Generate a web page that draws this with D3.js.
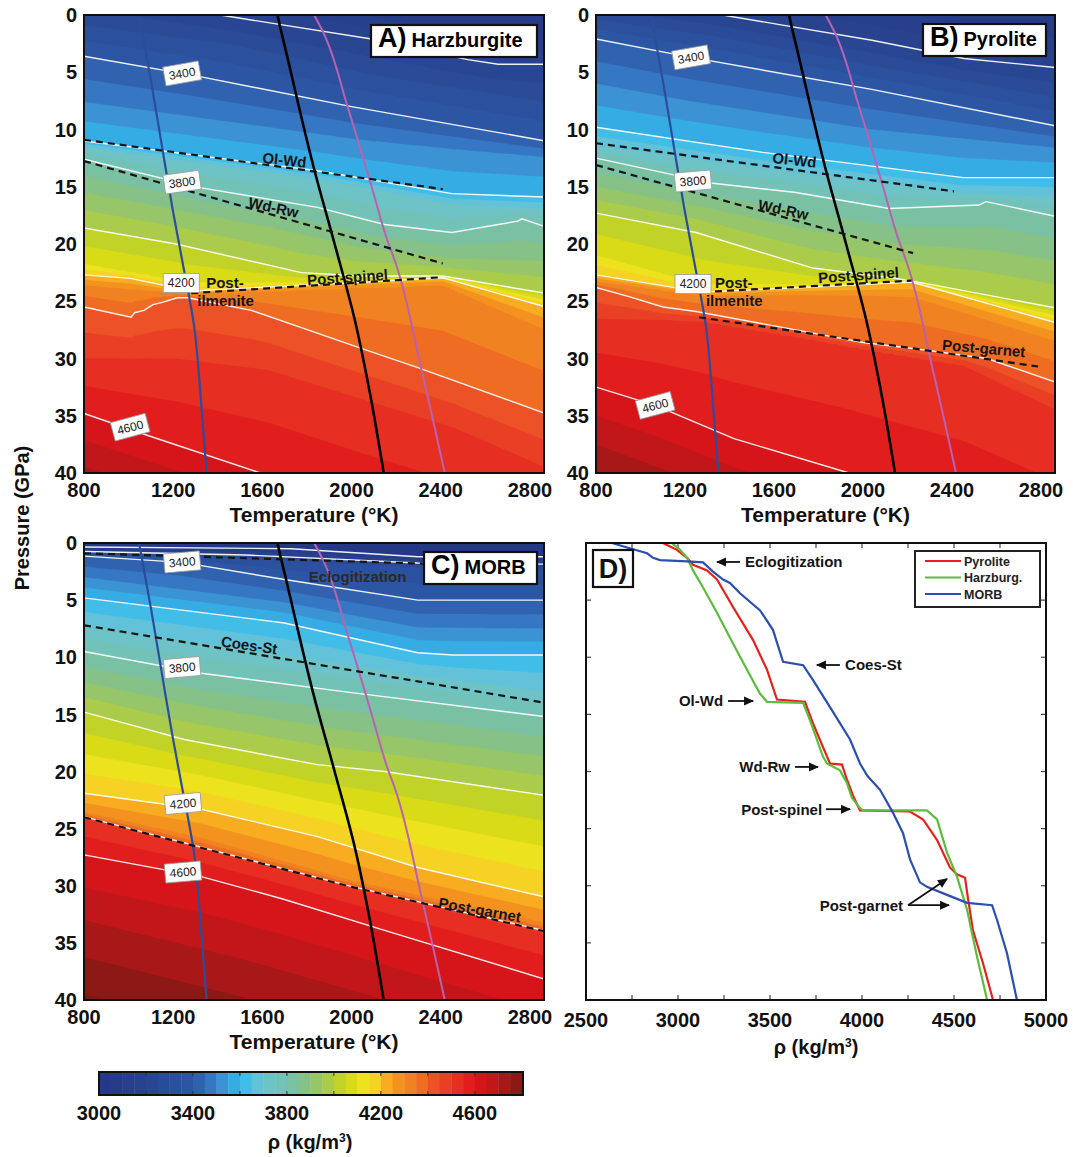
<!DOCTYPE html>
<html><head><meta charset="utf-8">
<script src="https://cdn.jsdelivr.net/npm/d3@7"></script>
<style>
body{margin:0;background:#fff;}
svg text{font-family:"Liberation Sans",Arial,Helvetica,sans-serif;}
</style></head>
<body><svg id="fig" width="1073" height="1157"></svg>
<script>
// ---------------- ticks ----------------
const tempDomain=[800,2863];
const tempTicks=[800,1200,1600,2000,2400,2800];
const presTicks=[0,5,10,15,20,25,30,35,40];
const rhoTicks=[2500,3000,3500,4000,4500,5000];
const rhoMinorTicks=[2750,3250,3750,4250,4750];
const cbarTicks=[3000,3400,3800,4200,4600];
const cbarMinorTicks=[3200,3400,3600,3800,4000,4200,4400,4600];

// ---------------- colormap ----------------
const cmapDensity=[3000,3200,3400,3480,3540,3600,3660,3720,3800,3900,3960,4030,4100,4150,4200,4250,4350,4420,4520,4600,4700,4810];
const cmapColor=["#253886","#28438f","#2d57a6","#3579c4","#3d9bd9","#2fb9ec","#5cc2e0","#6ec3c8","#74c1b0","#8cc27a","#a4c954","#c4d424","#e4df10","#f4e42a","#f8c020","#f59a1e","#f07a22","#ec5426","#e63024","#e0141a","#b8181a","#781a14"];

// density iso-levels (kg/m3); each panel gives, per level, the [T, P] trace of that isoline
const isoLevels=[3000,3100,3200,3300,3400,3500,3600,3700,3800,3900,4000,4100,4200,4300,4400,4500,4600,4700,4800];
const whiteLevels=[3000,3200,3400,3600,3800,4000,4200,4400,4600];

const harzIso=[
 [[800,-8],[2870,-3]],
 [[800,-4.5],[1627,-1.5],[2090,0.2],[2521,1.8],[2870,2.2]],
 [[800,-1.9],[1474,0.2],[2090,2.1],[2521,3.9],[2657,4.3],[2870,4.3]],
 [[800,0.9],[1474,2.6],[2090,5.2],[2870,7.6]],
 [[800,3.6],[1326,5.4],[2000,8.0],[2870,11.0]],
 [[800,7.6],[1627,9.8],[2040,10.9],[2454,11.7],[2870,12.4]],
 [[800,11.0],[1847,13.6],[2450,15.6],[2870,15.9]],
 [[800,11.5],[1847,14.3],[2450,16.5],[2870,16.9]],
 [[800,12.6],[1326,15.1],[1847,16.8],[2148,18.3],[2450,19.0],[2746,18.0],[2764,17.8],[2870,18.5]],
 [[800,15.5],[1627,18.5],[2040,20.3],[2454,21.3],[2870,21.5]],
 [[800,18.6],[1213,20.0],[1775,22.5],[2040,22.8],[2409,22.8],[2870,24.3]],
 [[800,21.8],[1281,23.4],[1775,23.45],[2040,23.25],[2409,22.88],[2870,24.9]],
 [[800,22.7],[1007,23.0],[1281,24.1],[1775,23.6],[2040,23.35],[2409,22.95],[2870,25.5]],
 [[800,23.6],[1281,24.4],[1775,24.0],[2040,23.8],[2409,23.6],[2870,27.5]],
 [[800,25.5],[1011,26.4],[1027,26.0],[1069,25.8],[1110,25.3],[1151,25.1],[1218,24.7],[1265,24.7],[1550,25.8],[2027,29.0],[2297,30.8],[2870,34.8]],
 [[800,30.0],[1213,30.0],[1627,31.0],[2040,33.5],[2454,36.0],[2870,39.5]],
 [[800,34.8],[1083,36.7],[1577,39.9],[2040,43],[2870,48]],
 [[800,39.5],[1213,42],[2870,52]],
 [[800,44],[2870,56]]
];
const pyroIso=[
 [[800,-8],[2870,-3]],
 [[800,-4],[2040,-0.5],[2870,2.0]],
 [[800,-1.5],[1369,0],[2040,2.2],[2454,3.8],[2870,4.6]],
 [[800,0.4],[1317,1.8],[2040,4.4],[2870,7.2]],
 [[800,2.1],[1227,3.7],[2040,6.5],[2870,9.7]],
 [[800,6.0],[1213,7.5],[2040,10.0],[2870,11.6]],
 [[800,9.8],[1550,12.0],[2450,14.2],[2870,14.2]],
 [[800,11.4],[1550,13.4],[2409,15.5],[2870,15.9]],
 [[800,12.5],[1326,14.7],[1699,15.5],[2117,16.9],[2521,16.6],[2553,16.3],[2870,17.6]],
 [[800,15.0],[1317,16.9],[1730,18.7],[2144,20.0],[2557,20.5],[2870,21.5]],
 [[800,17.3],[1250,19.0],[1775,22.1],[2148,23.0],[2297,23.5],[2870,25.6]],
 [[800,21.0],[1281,23.6],[1775,23.55],[2218,23.28],[2870,26.3]],
 [[800,22.7],[1281,24.2],[1730,23.8],[2218,23.32],[2870,26.9]],
 [[800,23.3],[1281,24.5],[1730,24.4],[2218,24.6],[2870,28.5]],
 [[800,23.8],[948,24.6],[1101,25.5],[1250,25.9],[1699,27.5],[2000,28.6],[2297,29.3],[2557,30.0],[2870,32.1]],
 [[800,26.5],[1263,26.7],[1730,28.2],[2040,29.3],[2454,30.6],[2870,34.5]],
 [[800,32.5],[1066,34.1],[1420,37.0],[1937,40],[2870,47]],
 [[800,37.5],[1420,42],[2870,51]],
 [[800,43],[2870,57]]
];
const morbIso=[
 [[800,0.35],[1730,0.5],[2297,1.2],[2870,1.2]],
 [[800,0.5],[1730,0.75],[2297,1.45],[2870,1.5]],
 [[800,0.75],[1524,1.05],[2297,1.75],[2870,1.85]],
 [[800,0.95],[1524,1.3],[2297,2.1],[2870,2.4]],
 [[800,1.15],[1240,1.7],[1699,3.2],[2297,5.0],[2870,5.0]],
 [[800,3.0],[1699,5.2],[2297,7.4],[2870,7.5]],
 [[800,4.8],[1699,7.0],[2297,9.6],[2454,9.8],[2870,9.8]],
 [[800,7.3],[1699,9.8],[2297,11.6],[2870,13.0]],
 [[800,9.5],[1326,11.4],[2000,13.1],[2870,15.2]],
 [[800,12.2],[1317,14.3],[1937,16.3],[2870,18.7]],
 [[800,14.8],[1250,17.2],[1847,19.4],[2148,20.0],[2870,22.1]],
 [[800,18.5],[1317,20.3],[1834,22.5],[2247,24.2],[2870,26.6]],
 [[800,21.9],[1326,23.3],[1847,25.7],[2297,28.4],[2870,31.0]],
 [[800,23.6],[1317,25.8],[2000,29.6],[2870,33.3]],
 [[800,23.95],[2000,30.05],[2870,33.95]],
 [[800,24.1],[2000,30.2],[2870,34.1]],
 [[800,27.3],[1326,29.2],[1699,31.2],[2148,33.9],[2870,38.2]],
 [[800,33.0],[1524,36.5],[2870,44]],
 [[800,39.5],[2870,50]]
];

// geotherms [T, P]
const geothermBlue=[[1047,0],[1101,5.8],[1150,11.5],[1196,16.8],[1240,21.4],[1294,27.2],[1322,33],[1350,40]];
const geothermBlack=[[1668,0],[1679,1.0],[1689,1.8],[1834,13.6],[1924,20],[2014,26.6],[2082,33],[2144,40]];
const geothermMagenta=[[1832,0],[1846,0.5],[1870,1.4],[1982,8.0],[2090,15.0],[2161,19.7],[2193,21.4],[2314,31.0],[2418,40]];

// phase boundaries [T, P]
const harzOlWd=[[800,10.9],[2409,15.2]];
const harzWdRw=[[800,12.75],[2409,21.7]];
const harzPostSpinel=[[1281,24.3],[2409,22.9]];
const pyroOlWd=[[800,11.2],[2409,15.4]];
const pyroWdRw=[[800,13.1],[2225,20.8]];
const pyroPostSpinel=[[1281,24.2],[2218,23.2]];
const pyroPostGarnet=[[1263,26.4],[2787,30.7]];
const morbEclog=[[800,0.9],[2320,1.8]];
const morbCoesSt=[[800,7.2],[2870,14.0]];
const morbPostGarnet=[[800,24.0],[2000,30.1],[2870,34.0]];

// contour labels [level, T, P, angle]
const harzCLabels=[[3400,1240,5.1,-10],[3800,1240,14.6,-8],[4200,1236,23.4,0],[4600,1007,36.0,-15]];
const pyroCLabels=[[3400,1227,3.7,-10],[3800,1236,14.5,-5],[4200,1236,23.5,0],[4600,1066,34.1,-15]];
const morbCLabels=[[3400,1240,1.66,-5],[3800,1240,10.9,-5],[4200,1244,22.8,-5],[4600,1244,28.8,-5]];

// phase labels [text, T, P, angle, anchor]
const harzPLabels=[["Ol-Wd",1699,12.66,6,"middle"],["Wd-Rw",1650,16.8,12,"middle"],["Post-spinel",1982,22.9,-4,"middle"],["Post-",1348,23.4,0,"start"],["ilmenite",1308,24.9,0,"start"]];
const pyroPLabels=[["Ol-Wd",1692,12.66,6,"middle"],["Wd-Rw",1642,17.0,12,"middle"],["Post-spinel",1980,22.7,-4,"middle"],["Post-",1335,23.4,0,"start"],["ilmenite",1294,24.9,0,"start"],["Post-garnet",2543,29.1,5,"middle"]];
const morbPLabels=[["Eclogitization",2027,2.98,0,"middle"],["Coes-St",1541,8.93,8,"middle"],["Post-garnet",2575,32.1,10,"middle"]];

// panel D profiles [rho, P]
const pyroliteProfile=[[2918,0],[2994,0.6],[3049,1.3],[3082,1.9],[3158,2.4],[3212,3.2],[3299,5.6],[3408,8.5],[3484,11.1],[3538,13.7],[3690,13.9],[3734,15.8],[3810,18.7],[3826,19.3],[3891,19.4],[3918,20.7],[3951,22.1],[3989,23.4],[4261,23.5],[4332,24.2],[4408,26.0],[4478,28.4],[4516,29.0],[4560,29.3],[4575,31.0],[4603,33.9],[4658,36.8],[4712,40]];
const harzProfile=[[2967,0],[3011,0.6],[3049,1.3],[3082,2.4],[3136,3.9],[3212,6.1],[3299,8.8],[3375,11.1],[3446,13.2],[3484,13.9],[3680,14.0],[3717,15.5],[3788,18.7],[3810,19.3],[3880,19.9],[3918,21.0],[3945,22.3],[3989,23.2],[4005,23.4],[4353,23.4],[4408,24.2],[4462,27.1],[4516,29.2],[4571,32.1],[4625,36.2],[4680,40]];
const morbProfile=[[2641,0],[2723,0.4],[2832,0.9],[2864,1.3],[2902,1.5],[3049,1.6],[3136,1.7],[3190,2.5],[3245,3.2],[3282,3.5],[3337,4.4],[3446,5.9],[3516,7.6],[3571,10.4],[3680,10.7],[3734,12.0],[3843,14.8],[3935,17.2],[3989,19.3],[4030,20.4],[4098,21.6],[4168,23.6],[4223,25.4],[4261,27.7],[4315,29.7],[4353,30.1],[4462,30.8],[4571,31.5],[4707,31.7],[4734,33.0],[4788,35.9],[4842,40]];
const profileNames=["Pyrolite","Harzburg.","MORB"];

// annotations panel D: [text, textRho, P, anchor, arrowFrom, arrowTo]
const dAnnot=[
 ["Eclogitization",3364,1.66,"start",[3337,1.66],[3212,1.66]],
 ["Coes-St",3908,10.68,"start",[3880,10.68],[3755,10.68]],
 ["Ol-Wd",3245,13.83,"end",[3272,13.83],[3408,13.83]],
 ["Wd-Rw",3609,19.6,"end",[3636,19.6],[3761,19.6]],
 ["Post-spinel",3783,23.3,"end",[3804,23.3],[3935,23.3]],
 ["Post-garnet",4223,31.7,"end",[4250,31.7],[4462,29.4]]
];
const dExtraArrow=[[4250,31.7],[4473,31.7]];

// ---------------- drawing ----------------
const svg=d3.select("#fig");
const defs=svg.append("defs");
defs.append("marker").attr("id","arr").attr("viewBox","0 0 10 10").attr("refX",9).attr("refY",5)
  .attr("markerUnits","userSpaceOnUse").attr("markerWidth",11).attr("markerHeight",10).attr("orient","auto")
  .append("path").attr("d","M0,0.5 L10,5 L0,9.5 z").attr("fill","#111");

const color=d3.scaleLinear().domain(cmapDensity).range(cmapColor).clamp(true);
const NX=230,NY=229;
const TSPAN=tempDomain[1]-tempDomain[0];

function atT(path,T){
  if(T<=path[0][0]) return path[0][1];
  for(let k=1;k<path.length;k++){
    if(T<=path[k][0]){const a=path[k-1],b=path[k];return a[1]+(b[1]-a[1])*(T-a[0])/(b[0]-a[0]);}
  }
  return path[path.length-1][1];
}
function field(iso){
  const vals=new Float64Array(NX*NY);
  for(let i=0;i<NX;i++){
    const T=tempDomain[0]+(i+0.5)*TSPAN/NX;
    const ps=iso.map(p=>atT(p,T));
    for(let k=1;k<ps.length;k++) if(ps[k]<ps[k-1]+0.01) ps[k]=ps[k-1]+0.01;
    const n=ps.length-1;
    for(let j=0;j<NY;j++){
      const P=(j+0.5)*40/NY;
      let v;
      if(P<=ps[0]) v=isoLevels[0]-(ps[0]-P)*(isoLevels[1]-isoLevels[0])/(ps[1]-ps[0]);
      else if(P>=ps[n]) v=isoLevels[n]+(P-ps[n])*(isoLevels[n]-isoLevels[n-1])/(ps[n]-ps[n-1]);
      else{let k=1;while(ps[k]<P)k++;v=isoLevels[k-1]+(P-ps[k-1])*(isoLevels[k]-isoLevels[k-1])/(ps[k]-ps[k-1]);}
      vals[j*NX+i]=Math.max(2900,Math.min(4900,v));
    }
  }
  return vals;
}

function heatPanel(id,box,iso,bounds,cLabels,pLabels,tag,name,tagBox,yLabelX){
  const xS=d3.scaleLinear().domain(tempDomain).range([box.x0,box.x1]);
  const yS=d3.scaleLinear().domain([0,40]).range([box.y0,box.y1]);
  defs.append("clipPath").attr("id","clip"+id).append("rect")
    .attr("x",box.x0).attr("y",box.y0).attr("width",box.x1-box.x0).attr("height",box.y1-box.y0);
  const g=svg.append("g").attr("clip-path","url(#clip"+id+")");
  const vals=field(iso);
  const thr=d3.range(2900,4900,50);
  const cs=d3.contours().size([NX,NY]).thresholds(thr)(vals);
  const proj=d3.geoTransform({point:function(x,y){this.stream.point(xS(tempDomain[0]+x*TSPAN/NX),yS(y*40/NY));}});
  const gp=d3.geoPath(proj);
  g.selectAll("path.band").data(cs).join("path").attr("class","band").attr("d",gp)
    .attr("fill",d=>color(d.value+25)).attr("stroke",d=>color(d.value+25)).attr("stroke-width",0.3);
  const line=d3.line().x(d=>xS(d[0])).y(d=>yS(d[1]));
  whiteLevels.forEach(l=>{
    const p=iso[isoLevels.indexOf(l)];
    g.append("path").attr("d",line(p)).attr("fill","none").attr("stroke","#fff").attr("stroke-width",1.4).attr("stroke-opacity",0.92);
  });
  const gl=d3.line().x(d=>xS(d[0])).y(d=>yS(d[1])).curve(d3.curveMonotoneY);
  g.append("path").attr("d",gl(geothermBlue)).attr("fill","none").attr("stroke","#2c4c9c").attr("stroke-width",2.2);
  g.append("path").attr("d",gl(geothermMagenta)).attr("fill","none").attr("stroke","#b862b0").attr("stroke-width",2);
  g.append("path").attr("d",gl(geothermBlack)).attr("fill","none").attr("stroke","#000").attr("stroke-width",2.6);
  bounds.forEach(b=>{
    g.append("path").attr("d",line(b)).attr("fill","none").attr("stroke","#151515").attr("stroke-width",2.2).attr("stroke-dasharray","7,5");
  });
  cLabels.forEach(c=>{
    const lg=g.append("g").attr("transform",`translate(${xS(c[1])},${yS(c[2])}) rotate(${c[3]})`);
    lg.append("rect").attr("x",-18).attr("y",-9.5).attr("width",36).attr("height",19).attr("fill","#fff").attr("stroke","#999").attr("stroke-width",0.8);
    lg.append("text").attr("text-anchor","middle").attr("dy","0.36em").attr("font-size",12).attr("fill","#222").text(c[0]);
  });
  pLabels.forEach(p=>{
    g.append("text").attr("transform",`translate(${xS(p[1])},${yS(p[2])}) rotate(${p[3]})`)
      .attr("text-anchor",p[4]).attr("dy","0.36em").attr("font-size",15).attr("font-weight","bold")
      .attr("fill",p[0]==="Eclogitization"?"#2a2a2a":"#151515").text(p[0]);
  });
  svg.append("rect").attr("x",box.x0).attr("y",box.y0).attr("width",box.x1-box.x0).attr("height",box.y1-box.y0)
    .attr("fill","none").attr("stroke","#111").attr("stroke-width",2);
  const tb=svg.append("g");
  tb.append("rect").attr("x",tagBox[0]).attr("y",tagBox[1]).attr("width",tagBox[2]).attr("height",tagBox[3])
    .attr("fill","#fff").attr("stroke","#111").attr("stroke-width",2.2);
  const tt=tb.append("text").attr("x",tagBox[0]+7).attr("y",tagBox[1]+tagBox[3]/2).attr("dy","0.36em").attr("font-weight","bold");
  tt.append("tspan").attr("font-size",27).text(tag);
  tt.append("tspan").attr("font-size",20).attr("dx",5).text(name);
  tempTicks.forEach(t=>{
    svg.append("text").attr("x",xS(t)).attr("y",box.y1+17).attr("dy","0.36em").attr("text-anchor","middle")
      .attr("font-size",20).attr("font-weight","bold").attr("fill","#111").text(t);
  });
  presTicks.forEach(p=>{
    svg.append("text").attr("x",yLabelX).attr("y",yS(p)).attr("dy","0.36em").attr("text-anchor","end")
      .attr("font-size",20).attr("font-weight","bold").attr("fill","#111").text(p);
  });
  svg.append("text").attr("x",(box.x0+box.x1)/2).attr("y",box.y1+41).attr("dy","0.36em").attr("text-anchor","middle")
    .attr("font-size",21).attr("font-weight","bold").attr("fill","#111").text("Temperature (°K)");
}

heatPanel("A",{x0:84,x1:544,y0:15,y1:473},harzIso,[harzOlWd,harzWdRw,harzPostSpinel],harzCLabels,harzPLabels,"A)","Harzburgite",[371,25,166,32],77);
heatPanel("B",{x0:596,x1:1055,y0:15,y1:473},pyroIso,[pyroOlWd,pyroWdRw,pyroPostSpinel,pyroPostGarnet],pyroCLabels,pyroPLabels,"B)","Pyrolite",[923,24,123,32],589);
heatPanel("C",{x0:84,x1:544,y0:543,y1:1000},morbIso,[morbEclog,morbCoesSt,morbPostGarnet],morbCLabels,morbPLabels,"C)","MORB",[424,552,113,32],77);

svg.append("text").attr("transform","translate(22,518) rotate(-90)").attr("text-anchor","middle").attr("dy","0.36em")
  .attr("font-size",20).attr("font-weight","bold").attr("fill","#111").text("Pressure (GPa)");

// ---------------- panel D ----------------
(function(){
  const box={x0:586,x1:1046,y0:543,y1:1000};
  const xD=d3.scaleLinear().domain([2500,5000]).range([box.x0,box.x1]);
  const yD=d3.scaleLinear().domain([0,40]).range([box.y0,box.y1]);
  defs.append("clipPath").attr("id","clipD").append("rect").attr("x",box.x0).attr("y",box.y0).attr("width",box.x1-box.x0).attr("height",box.y1-box.y0);
  svg.append("rect").attr("x",box.x0).attr("y",box.y0).attr("width",box.x1-box.x0).attr("height",box.y1-box.y0).attr("fill","#fff");
  const tk=svg.append("g").attr("stroke","#444").attr("stroke-width",1.2);
  rhoTicks.concat(rhoMinorTicks).forEach(r=>{
    tk.append("line").attr("x1",xD(r)).attr("x2",xD(r)).attr("y1",box.y1).attr("y2",box.y1-5);
    tk.append("line").attr("x1",xD(r)).attr("x2",xD(r)).attr("y1",box.y0).attr("y2",box.y0+5);
  });
  presTicks.forEach(p=>{
    tk.append("line").attr("x1",box.x0).attr("x2",box.x0+5).attr("y1",yD(p)).attr("y2",yD(p));
    tk.append("line").attr("x1",box.x1).attr("x2",box.x1-5).attr("y1",yD(p)).attr("y2",yD(p));
  });
  const g=svg.append("g").attr("clip-path","url(#clipD)");
  const line=d3.line().x(d=>xD(d[0])).y(d=>yD(d[1]));
  const cols=["#e8201c","#5cbc3c","#2a4fb0"];
  [pyroliteProfile,harzProfile,morbProfile].forEach((p,i)=>{
    g.append("path").attr("d",line(p)).attr("fill","none").attr("stroke",cols[i]).attr("stroke-width",2.2);
  });
  svg.append("rect").attr("x",box.x0).attr("y",box.y0).attr("width",box.x1-box.x0).attr("height",box.y1-box.y0)
    .attr("fill","none").attr("stroke","#111").attr("stroke-width",2);
  dAnnot.forEach(a=>{
    svg.append("text").attr("x",xD(a[1])).attr("y",yD(a[2])).attr("dy","0.36em").attr("text-anchor",a[3])
      .attr("font-size",15).attr("font-weight","bold").attr("fill","#151515").text(a[0]);
    svg.append("line").attr("x1",xD(a[4][0])).attr("y1",yD(a[4][1])).attr("x2",xD(a[5][0])).attr("y2",yD(a[5][1]))
      .attr("stroke","#111").attr("stroke-width",1.8).attr("marker-end","url(#arr)");
  });
  svg.append("line").attr("x1",xD(dExtraArrow[0][0])).attr("y1",yD(dExtraArrow[0][1])).attr("x2",xD(dExtraArrow[1][0])).attr("y2",yD(dExtraArrow[1][1]))
    .attr("stroke","#111").attr("stroke-width",1.8).attr("marker-end","url(#arr)");
  svg.append("rect").attr("x",915).attr("y",551).attr("width",125).attr("height",56).attr("fill","#fff").attr("stroke","#222").attr("stroke-width",2);
  profileNames.forEach((n,i)=>{
    const y=561+i*16.5;
    svg.append("line").attr("x1",925).attr("x2",961).attr("y1",y).attr("y2",y).attr("stroke",cols[i]).attr("stroke-width",2.2);
    svg.append("text").attr("x",964).attr("y",y).attr("dy","0.36em").attr("font-size",12.5).attr("font-weight","bold").attr("fill","#222").text(n);
  });
  svg.append("rect").attr("x",593).attr("y",550).attr("width",40).attr("height",37).attr("fill","#fff").attr("stroke","#111").attr("stroke-width",2.2);
  svg.append("text").attr("x",613).attr("y",568.5).attr("dy","0.36em").attr("text-anchor","middle").attr("font-size",27).attr("font-weight","bold").attr("fill","#111").text("D)");
  rhoTicks.forEach(r=>{
    svg.append("text").attr("x",xD(r)).attr("y",box.y1+20).attr("dy","0.36em").attr("text-anchor","middle")
      .attr("font-size",20).attr("font-weight","bold").attr("fill","#111").text(r);
  });
  const t=svg.append("text").attr("x",(box.x0+box.x1)/2).attr("y",box.y1+47).attr("dy","0.36em").attr("text-anchor","middle")
    .attr("font-size",20).attr("font-weight","bold").attr("fill","#111");
  t.append("tspan").text("ρ (kg/m");
  t.append("tspan").attr("font-size",12).attr("dy","-0.6em").text("3");
  t.append("tspan").attr("dy","0.35em").text(")");
})();

// ---------------- colorbar ----------------
(function(){
  const cS=d3.scaleLinear().domain([3000,4805]).range([99,523]);
  const y0=1072,h=23;
  const bands=d3.range(3000,4805,50);
  svg.append("g").selectAll("rect").data(bands).join("rect")
    .attr("x",d=>cS(d)).attr("width",d=>cS(Math.min(d+50,4805))-cS(d)+0.4).attr("y",y0).attr("height",h)
    .attr("fill",d=>color(d+25));
  const tk=svg.append("g").attr("stroke","#333").attr("stroke-width",1);
  cbarMinorTicks.forEach(v=>{
    tk.append("line").attr("x1",cS(v)).attr("x2",cS(v)).attr("y1",y0).attr("y2",y0+4);
    tk.append("line").attr("x1",cS(v)).attr("x2",cS(v)).attr("y1",y0+h).attr("y2",y0+h-4);
  });
  svg.append("rect").attr("x",99).attr("y",y0).attr("width",424).attr("height",h).attr("fill","none").attr("stroke","#111").attr("stroke-width",2);
  cbarTicks.forEach(v=>{
    svg.append("text").attr("x",cS(v)).attr("y",1113).attr("dy","0.36em").attr("text-anchor","middle")
      .attr("font-size",20).attr("font-weight","bold").attr("fill","#111").text(v);
  });
  const t=svg.append("text").attr("x",310).attr("y",1142).attr("dy","0.36em").attr("text-anchor","middle")
    .attr("font-size",20).attr("font-weight","bold").attr("fill","#111");
  t.append("tspan").text("ρ (kg/m");
  t.append("tspan").attr("font-size",12).attr("dy","-0.6em").text("3");
  t.append("tspan").attr("dy","0.35em").text(")");
})();
</script></body></html>
